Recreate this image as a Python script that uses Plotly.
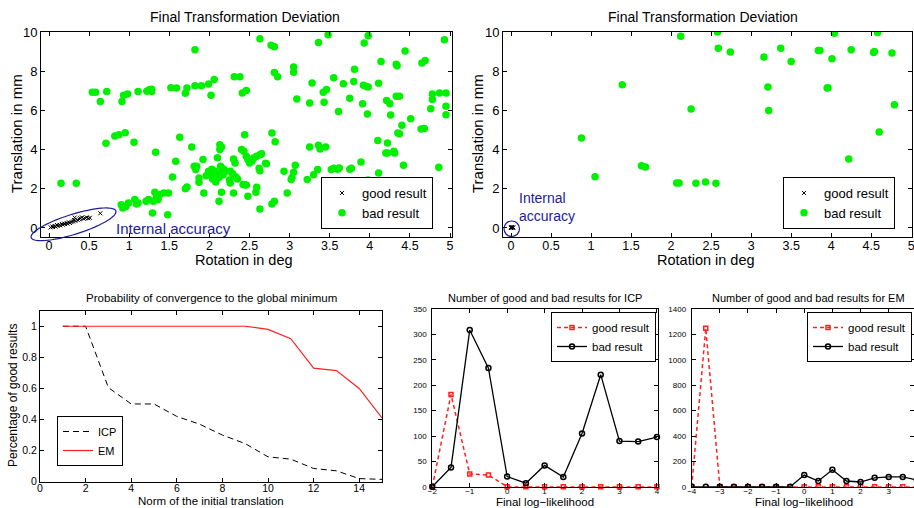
import math
import plotly.graph_objects as go

W, H = 914, 508
FONT = "Liberation Sans, Arial, Helvetica, sans-serif"
NAVY = "#1c1c96"
GREEN = "#00f000"

# ---------------- data: top-left scatter (many trials) ----------------
good1_x = [0.02, 0.04, 0.05, 0.07, 0.08, 0.1, 0.11, 0.13, 0.14, 0.16, 0.17, 0.19, 0.2, 0.22,
           0.23, 0.25, 0.26, 0.28, 0.3, 0.31, 0.32, 0.33, 0.36, 0.38, 0.39, 0.41, 0.43, 0.45,
           0.47, 0.49, 0.51, 0.64]
good1_y = [0.03, 0.08, 0.05, 0.1, 0.07, 0.15, 0.11, 0.16, 0.13, 0.2, 0.17, 0.22, 0.2, 0.25,
           0.22, 0.28, 0.26, 0.3, 0.33, 0.41, 0.53, 0.36, 0.4, 0.44, 0.5, 0.54, 0.47, 0.5,
           0.54, 0.49, 0.52, 0.75]
bad1 = [(0.15, 2.28), (0.34, 2.28), (0.54, 6.92), (0.58, 6.92), (0.64, 6.46), (0.72, 6.97), (0.71, 4.32),
        (0.82, 4.69), (0.87, 4.76), (0.95, 4.86), (0.91, 6.46), (0.93, 6.77), (0.98, 6.84), (1.06, 4.37),
        (1.11, 6.96), (1.22, 6.98), (1.25, 7.05), (1.28, 7.08), (1.28, 6.96), (1.33, 3.86), (1.52, 7.16),
        (1.59, 7.14), (1.63, 4.63), (1.70, 6.87), (1.72, 7.14), (1.78, 4.13), (1.82, 9.1), (1.82, 7.26),
        (1.90, 7.26), (1.99, 7.35), (2.06, 7.57), (2.02, 6.77), (2.31, 7.72), (2.38, 7.72), (2.41, 6.89),
        (2.46, 7.02), (2.63, 9.66), (2.77, 9.32), (2.81, 9.25), (2.81, 7.93), (2.85, 7.72), (3.05, 8.21),
        (3.05, 7.94), (3.09, 6.58), (3.25, 6.38), (3.28, 7.4), (3.36, 9.47), (3.48, 9.86), (3.42, 6.92),
        (3.46, 7.06), (3.43, 6.41), (3.55, 7.67), (3.61, 5.94), (3.67, 7.36), (3.75, 6.62), (3.81, 8.1),
        (3.8, 7.48), (3.92, 7.28), (3.96, 7.22), (3.98, 7.2), (3.91, 6.34), (3.93, 9.44), (3.98, 9.81),
        (3.97, 5.82), (4.11, 7.38), (4.14, 8.49), (4.21, 6.51), (4.25, 6.34), (4.33, 6.72), (4.37, 6.72),
        (4.33, 8.35), (4.34, 8.28), (4.26, 5.77), (4.44, 9.03), (4.51, 5.58), (4.4, 5.24), (4.65, 8.42),
        (4.69, 8.54), (4.76, 6.09), (4.78, 6.84), (4.78, 6.55), (4.87, 6.89), (4.95, 6.89), (4.93, 9.61),
        (4.95, 6.21), (4.95, 5.78), (4.64, 5.05), (4.68, 5.07), (4.35, 4.85), (4.37, 4.81), (4.1, 4.47),
        (4.2, 3.83), (4.22, 3.83), (4.22, 4.34), (4.3, 3.91), (4.31, 3.83), (4.42, 3.2), (4.86, 3.1),
        (4.11, 2.81), (3.98, 2.45), (4.02, 2.04), (3.93, 2.13), (3.82, 2.33), (3.89, 3.37), (3.75, 3.0),
        (3.77, 3.05), (3.6, 3.0), (3.55, 3.05), (3.52, 2.99), (3.62, 3.06), (3.35, 2.98), (3.3, 2.72),
        (3.22, 2.47), (3.25, 4.13), (3.36, 4.22), (3.38, 4.03), (3.45, 4.13), (3.07, 3.2), (3.05, 2.84),
        (3.03, 2.58), (3.02, 2.47), (2.97, 1.79), (2.93, 2.89), (2.78, 4.85), (2.82, 4.4), (2.71, 3.28),
        (2.63, 3.74), (2.65, 3.79), (2.59, 3.66), (2.55, 3.57), (2.53, 3.4), (2.5, 3.32), (2.48, 3.49),
        (2.46, 3.66), (2.44, 4.76), (2.4, 4.0), (2.43, 3.91), (2.44, 2.2), (2.42, 2.22), (2.35, 2.5),
        (2.3, 3.52), (2.32, 3.32), (2.29, 2.77), (2.26, 2.89), (2.26, 2.3), (2.3, 1.79), (2.15, 1.82),
        (2.14, 2.8), (2.13, 2.64), (2.17, 2.72), (2.11, 2.55), (2.12, 1.36), (2.13, 4.25), (2.15, 4.13),
        (2.13, 4.0), (2.1, 3.59), (2.14, 3.15), (2.04, 2.5), (2.0, 2.75), (1.96, 2.66), (1.99, 2.9),
        (2.03, 3.0), (1.92, 3.49), (1.93, 1.79), (1.87, 2.33), (1.87, 2.55), (1.84, 3.15), (1.81, 3.15),
        (1.83, 2.98), (1.72, 2.09), (1.7, 2.0), (1.58, 3.4), (1.54, 2.6), (1.49, 1.79), (1.43, 1.79),
        (1.38, 1.7), (1.32, 1.82), (1.34, 1.62), (1.48, 0.68), (1.29, 0.77), (1.21, 1.36), (1.24, 1.45),
        (1.30, 1.36), (1.36, 1.45), (1.07, 1.45), (1.09, 1.22), (1.11, 1.28), (0.99, 1.28), (0.96, 1.1),
        (0.92, 1.02), (0.9, 1.19), (2.63, 0.97), (2.81, 1.36), (2.78, 1.22), (2.58, 1.82), (2.48, 1.62),
        (2.59, 2.08), (2.46, 2.19), (2.62, 3.05), (2.63, 2.92), (2.7, 3.3), (2.33, 2.6), (2.2, 2.9),
        (2.25, 2.45), (2.08, 2.35), (2.05, 2.65), (2.18, 3.0), (2.07, 2.9)]
bad1_x = [p[0] for p in bad1]
bad1_y = [p[1] for p in bad1]

# ---------------- data: top-right scatter ----------------
good2_x = [0.0, 0.01, 0.02, 0.0, 0.03, 0.01]
good2_y = [0.0, 0.02, 0.01, 0.04, 0.03, 0.05]
bad2_x = [0.88, 1.05, 1.39, 1.63, 1.68, 2.07, 2.1, 2.12, 2.25, 2.31, 2.43, 2.56, 2.58, 2.59, 2.74,
          3.16, 3.21, 3.22, 3.37, 3.5, 3.84, 3.86, 3.95, 3.96, 4.01, 4.04, 4.25, 4.22, 4.53, 4.54,
          4.58, 4.6, 4.76, 4.79]
bad2_y = [4.59, 2.62, 7.31, 3.18, 3.11, 2.3, 2.3, 9.78, 6.07, 2.28, 2.35, 2.28, 10.0, 9.17, 8.98,
          8.72, 7.19, 6.0, 9.17, 8.5, 9.06, 9.05, 7.14, 7.16, 8.64, 9.93, 9.1, 3.52, 8.95, 9.0,
          9.98, 4.9, 8.93, 6.29]

# ---------------- data: probability of convergence ----------------
norm_x = [1, 2, 3, 4, 5, 6, 7, 8, 9, 10, 11, 12, 13, 14, 15]
icp_prob = [1.0, 1.0, 0.605, 0.5, 0.5, 0.42, 0.37, 0.3, 0.245, 0.16, 0.145, 0.085, 0.07, 0.02, 0.015]
em_prob = [1.0, 1.0, 1.0, 1.0, 1.0, 1.0, 1.0, 1.0, 1.0, 0.98, 0.92, 0.73, 0.715, 0.6, 0.41]

# ---------------- data: histograms ----------------
icp_ll = [-2, -1.5, -1, -0.5, 0, 0.5, 1, 1.5, 2, 2.5, 3, 3.5, 4]
icp_good = [0, 182, 25, 23, 0, 0, 0, 0, 0, 0, 0, 0, 0]
icp_bad = [0, 38, 309, 234, 20, 7, 42, 19, 105, 221, 90, 89, 98]

em_ll = [-4, -3.5, -3, -2.5, -2, -1.5, -1, -0.5, 0, 0.5, 1, 1.5, 2, 2.5, 3, 3.5, 4]
em_good = [0, 1250, 0, 0, 0, 0, 0, 0, 0, 0, 0, 0, 0, 0, 0, 0, 0]
em_bad = [0, 0, 0, 0, 0, 0, 0, 0, 92, 45, 133, 45, 37, 70, 77, 77, 53]

# tick values
tick_rot = [0, 0.5, 1, 1.5, 2, 2.5, 3, 3.5, 4, 4.5, 5]
tick_trans = [0, 2, 4, 6, 8, 10]
tick_norm = [0, 2, 4, 6, 8, 10, 12, 14]
tick_prob = [0, 0.2, 0.4, 0.6, 0.8, 1]
tick_icp_y = [0, 50, 100, 150, 200, 250, 300, 350]
tick_icp_x = [-2, -1, 0, 1, 2, 3, 4]
tick_em_y = [0, 200, 400, 600, 800, 1000, 1200, 1400]
tick_em_x = [-4, -3, -2, -1, 0, 1, 2, 3, 4]


def px_x(p):
    return p / W


def px_y(p):
    return 1 - p / H


def axis(domain, rng, tickvals, fs, standoff=0):
    return dict(domain=domain, range=rng, tickvals=tickvals, showgrid=False, zeroline=False,
                showline=True, linecolor="black", linewidth=1, mirror="ticks", ticks="inside",
                ticklen=4, tickcolor="black", tickfont=dict(size=fs, color="black", family=FONT),
                fixedrange=True, automargin=False, ticklabeloverflow="allow",
                ticklabelstandoff=standoff)


fig = go.Figure()

cross = dict(symbol="x-thin", size=4, line=dict(width=1, color="black"), color="black")
dot = dict(symbol="circle", size=7.5, color=GREEN)

# top-left
fig.add_trace(go.Scatter(x=good1_x, y=good1_y, mode="markers", name="good result", marker=cross,
                         xaxis="x", yaxis="y", legend="legend"))
fig.add_trace(go.Scatter(x=bad1_x, y=bad1_y, mode="markers", name="bad result", marker=dot,
                         xaxis="x", yaxis="y", legend="legend"))
# top-right
fig.add_trace(go.Scatter(x=good2_x, y=good2_y, mode="markers", name="good result", marker=cross,
                         xaxis="x2", yaxis="y2", legend="legend2"))
fig.add_trace(go.Scatter(x=bad2_x, y=bad2_y, mode="markers", name="bad result", marker=dot,
                         xaxis="x2", yaxis="y2", legend="legend2"))
# bottom-left
fig.add_trace(go.Scatter(x=norm_x, y=icp_prob, mode="lines", name="ICP",
                         line=dict(color="black", width=1, dash="6px,4px"),
                         xaxis="x3", yaxis="y3", legend="legend3"))
fig.add_trace(go.Scatter(x=norm_x, y=em_prob, mode="lines", name="EM",
                         line=dict(color="#ff2020", width=1.2),
                         xaxis="x3", yaxis="y3", legend="legend3"))
# ICP histogram
fig.add_trace(go.Scatter(x=icp_ll, y=icp_good, mode="lines+markers", name="good result",
                         line=dict(color="#ff2020", width=1.5, dash="4px,3px"),
                         marker=dict(symbol="square-open", size=4, line=dict(width=1.5, color="#ff2020")),
                         xaxis="x4", yaxis="y4", legend="legend4", cliponaxis=False))
fig.add_trace(go.Scatter(x=icp_ll, y=icp_bad, mode="lines+markers", name="bad result",
                         line=dict(color="black", width=1.3),
                         marker=dict(symbol="circle-open", size=5, line=dict(width=1.5, color="#222")),
                         xaxis="x4", yaxis="y4", legend="legend4", cliponaxis=False))
# EM histogram
fig.add_trace(go.Scatter(x=em_ll, y=em_good, mode="lines+markers", name="good result",
                         line=dict(color="#ff2020", width=1.5, dash="4px,3px"),
                         marker=dict(symbol="square-open", size=4, line=dict(width=1.5, color="#ff2020")),
                         xaxis="x5", yaxis="y5", legend="legend5"))
fig.add_trace(go.Scatter(x=em_ll, y=em_bad, mode="lines+markers", name="bad result",
                         line=dict(color="black", width=1.3),
                         marker=dict(symbol="circle-open", size=5, line=dict(width=1.5, color="#222")),
                         xaxis="x5", yaxis="y5", legend="legend5"))

top_dom_y = [px_y(237), px_y(32)]
bot_dom_y = [px_y(486.7), px_y(309.3)]

layout = dict(
    width=W, height=H, margin=dict(l=0, r=0, t=0, b=0, autoexpand=False),
    paper_bgcolor="white", plot_bgcolor="white",
    font=dict(family=FONT, color="black"),
    xaxis=axis([px_x(41), px_x(452)], [-0.1, 5.025], tick_rot, 12.5, -3),
    yaxis=axis(top_dom_y, [-0.46, 10], tick_trans, 13),
    xaxis2=axis([px_x(503), px_x(912)], [-0.1, 5.01], tick_rot, 12.5, -3),
    yaxis2=axis(top_dom_y, [-0.46, 10], tick_trans, 13),
    xaxis3=axis([px_x(40), px_x(382)], [0, 15], tick_norm, 10.5, -3),
    yaxis3=axis([px_y(481.7), px_y(310.7)], [0, 1.1], tick_prob, 10.5),
    xaxis4=axis([px_x(432.3), px_x(658)], [-2, 4.03], tick_icp_x, 8, -3),
    yaxis4=axis(bot_dom_y, [0, 350], tick_icp_y, 8, 3),
    xaxis5=axis([px_x(691.7), 1.0], [-4, 3.9], tick_em_x, 8, -3),
    yaxis5=axis(bot_dom_y, [0, 1400], tick_em_y, 8, 3),
)
for k in ["xaxis2", "xaxis3", "xaxis4", "xaxis5"]:
    layout[k]["anchor"] = "y" + k[-1]
for k in ["yaxis2", "yaxis3", "yaxis4", "yaxis5"]:
    layout[k]["anchor"] = "x" + k[-1]
layout["xaxis"]["anchor"] = "y"
layout["yaxis"]["anchor"] = "x"

legend_common = dict(bgcolor="white", bordercolor="black", borderwidth=1, tracegroupgap=0,
                     itemclick=False, itemdoubleclick=False, itemwidth=30)
layout["legend"] = dict(legend_common, x=px_x(433), y=px_y(229), xanchor="right", yanchor="bottom",
                        font=dict(size=13, family=FONT))
layout["legend2"] = dict(legend_common, x=px_x(895), y=px_y(229), xanchor="right", yanchor="bottom",
                         font=dict(size=13, family=FONT))
layout["legend3"] = dict(legend_common, x=px_x(57), y=px_y(466), xanchor="left", yanchor="bottom",
                         font=dict(size=11, family=FONT))
layout["legend4"] = dict(legend_common, x=px_x(656), y=px_y(312), xanchor="right", yanchor="top",
                         font=dict(size=11.5, family=FONT))
layout["legend5"] = dict(legend_common, x=px_x(912), y=px_y(312), xanchor="right", yanchor="top",
                         font=dict(size=11.5, family=FONT))

fig.update_layout(**layout)

# ----- text annotations -----
def ann(text, x, y, size, xanchor="center", yanchor="middle", color="black", angle=0, align="center"):
    fig.add_annotation(text=text, x=px_x(x), y=px_y(y), xref="paper", yref="paper",
                       xanchor=xanchor, yanchor=yanchor, showarrow=False, textangle=angle,
                       font=dict(size=size, color=color, family=FONT), align=align)

ann("Final Transformation Deviation", 245, 17, 14)
ann("Final Transformation Deviation", 703, 17, 14)
ann("Translation in mm", 16, 134, 15, angle=-90)
ann("Translation in mm", 477, 134, 15, angle=-90)
ann("Rotation in deg", 244, 260, 14.5)
ann("Rotation in deg", 706, 260, 14.5)
ann("Probability of convergence to the global minimum", 211, 298, 11.5)
ann("Percentage of good results", 13, 396, 12, angle=-90)
ann("Norm of the initial translation", 211, 501, 11.5)
ann("Number of good and bad results for ICP", 545, 298, 11)
ann("Final log\u2212likelihood", 545, 502, 11.5)
ann("Number of good and bad results for EM", 808, 298, 11)
ann("Final log\u2212likelihood", 804, 502, 11.5)

ann("Internal accuracy", 114, 228, 15, xanchor="left", color=NAVY)
ann("Internal<br>accuracy", 517, 207, 14, xanchor="left", color=NAVY, align="left")

# ellipse (top-left) and circle (top-right) outlines, in paper coordinates
cx, cy, a, b, th = 73.5, 224.3, 44.4, 10.0, math.radians(17.4)
pts = []
for i in range(73):
    t = 2 * math.pi * i / 72
    xs = cx + a * math.cos(t) * math.cos(th) - b * math.sin(t) * math.sin(th)
    ys = cy - (a * math.cos(t) * math.sin(th) + b * math.sin(t) * math.cos(th))
    pts.append((px_x(xs), px_y(ys)))
path = "M " + " L ".join(f"{x:.5f},{y:.5f}" for x, y in pts) + " Z"
fig.add_shape(type="path", path=path, xref="paper", yref="paper",
              line=dict(color=NAVY, width=1.2))
fig.add_shape(type="circle", xref="paper", yref="paper",
              x0=px_x(504), x1=px_x(519.5), y0=px_y(221), y1=px_y(236.5),
              line=dict(color=NAVY, width=1.2))

fig.write_html("out.html", config={"displayModeBar": False},
               post_script="document.body.style.margin='0px';document.body.style.overflow='hidden';")
